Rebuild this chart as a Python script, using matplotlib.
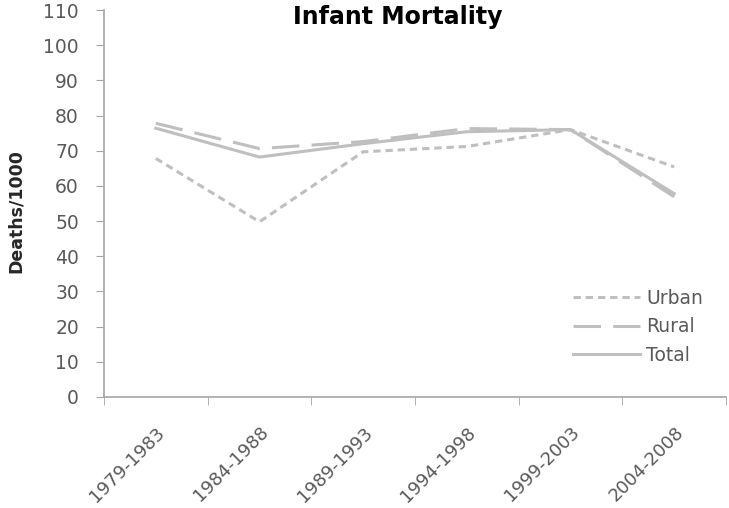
import numpy as np
import matplotlib.pyplot as plt

plt.rcParams['font.family'] = ['DejaVu Sans']

periods = ['1979-1983', '1984-1988', '1989-1993', '1994-1998', '1999-2003', '2004-2008']
urban = [67.8, 49.8, 69.7, 71.2, 76.0, 65.4]
rural = [77.8, 70.6, 72.6, 76.3, 76.0, 56.9]
total = [76.4, 68.2, 72.0, 75.4, 76.0, 57.8]

line_color = '#bfbfbf'
text_color = '#595959'
axis_color = '#a6a6a6'

fig = plt.figure(figsize=(7.29, 5.08), dpi=100)
ax = fig.add_axes([104 / 729, 1 - 397 / 508, 622 / 729, 387 / 508])

x = np.arange(len(periods))
ax.plot(x, urban, color=line_color, lw=2.2, dashes=(2.4, 1.6), label='Urban')
ax.plot(x, rural, color=line_color, lw=2.2, dashes=(9, 4), label='Rural')
ax.plot(x, total, color=line_color, lw=2.2, label='Total')

ax.set_xlim(-0.5, len(periods) - 0.5)
ax.set_ylim(0, 110)
ax.set_yticks(range(0, 111, 10))
ax.set_xticks(x)
ax.set_xticklabels(periods, rotation=45, ha='right', rotation_mode='anchor')
ax.set_xticks(np.arange(-0.5, len(periods), 1), minor=True)

ax.tick_params(axis='x', which='major', length=0, pad=19, labelsize=13, labelcolor=text_color)
ax.tick_params(axis='x', which='minor', length=6, color=axis_color)
ax.tick_params(axis='y', length=6, color=axis_color, labelsize=13.5, labelcolor=text_color, pad=12)

for side in ['top', 'right']:
    ax.spines[side].set_visible(False)
for side in ['left', 'bottom']:
    ax.spines[side].set_color(axis_color)
    ax.spines[side].set_linewidth(1.2)

ax.set_ylabel('Deaths/1000', fontsize=12.5, fontweight='bold', color='#262626')
ax.yaxis.set_label_coords(-0.127, 0.48)
fig.text(398 / 729, 1 - 17 / 508, 'Infant Mortality', fontsize=17, fontweight='bold',
         ha='center', va='center')

leg = ax.legend(loc='lower right', bbox_to_anchor=(0.99, 0.04), frameon=False,
                fontsize=13.5, handlelength=3.6, labelspacing=0.5, handletextpad=0.3)
for t in leg.get_texts():
    t.set_color(text_color)

fig.savefig('out.png', dpi=100)
